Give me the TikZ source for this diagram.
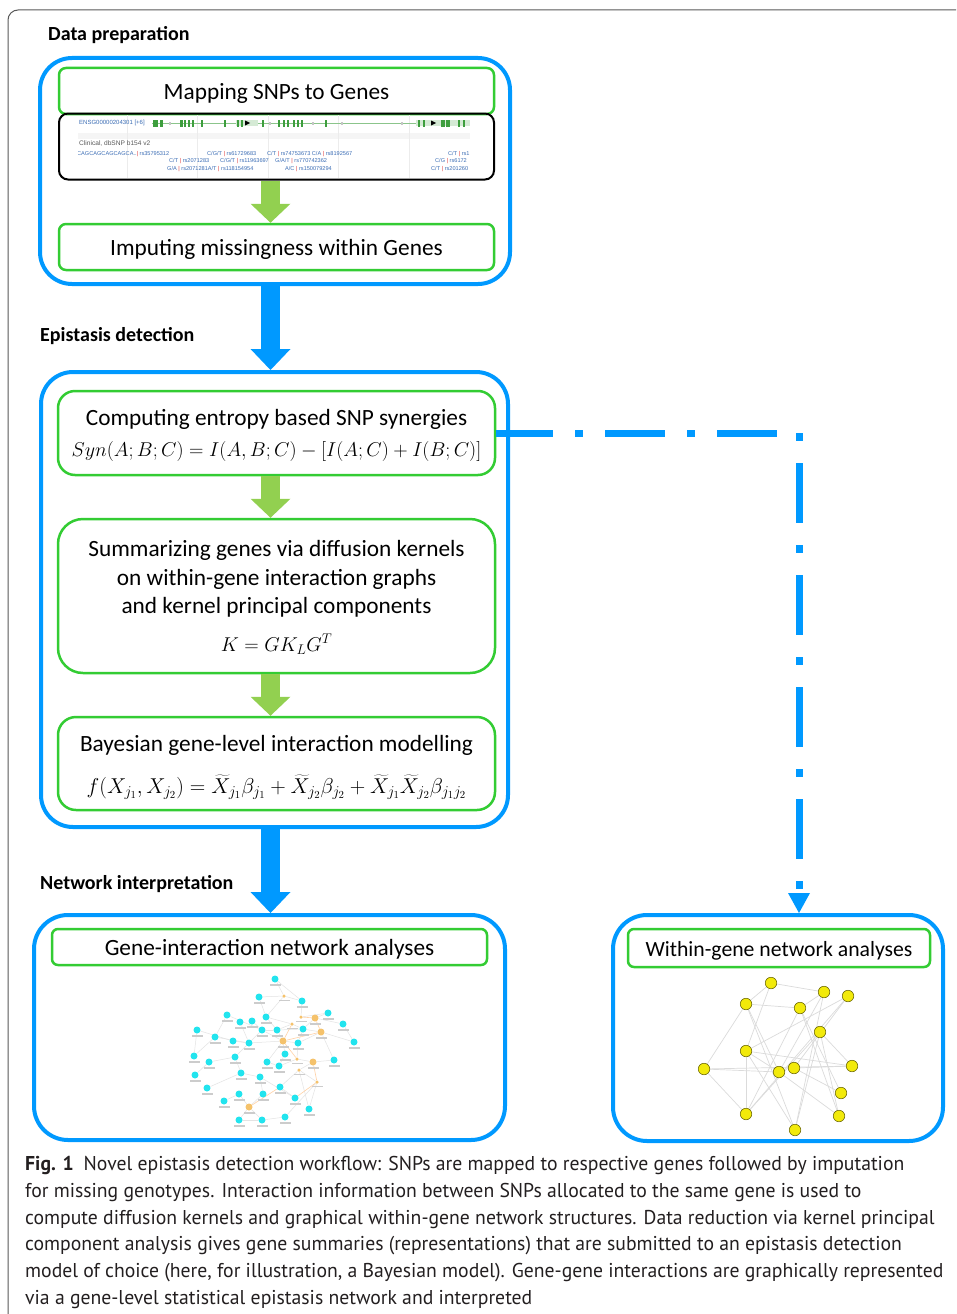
\RequirePackage{fix-cm}
\documentclass[tikz,border=0pt]{standalone}
\usepackage[no-math]{fontspec}
\usepackage{xcolor}
\usepackage{tikz}
\usetikzlibrary{
    arrows.meta,
    positioning,
    calc,
    backgrounds
}
\newfontfamily\boxfont{Carlito}
\newfontfamily\capfont[FakeStretch=0.985]{PT Sans}
\newfontfamily\trackfont{Liberation Sans}
\pgfdeclarelayer{netedges}
\pgfsetlayers{background,netedges,main}
\definecolor{flowblue}{HTML}{0099FF}
\definecolor{boxgreen}{HTML}{33CC33}
\definecolor{stepgreen}{HTML}{92D050}
\definecolor{framegray}{HTML}{595959}
\definecolor{trackblue}{HTML}{3B6DB5}
\definecolor{trackgreen}{HTML}{3E9E3E}
\definecolor{snpred}{HTML}{E03030}
\definecolor{genecyan}{HTML}{22E4EE}
\definecolor{geneorange}{HTML}{F5C26B}
\definecolor{snpyellow}{HTML}{F2EA0A}
\definecolor{captext}{HTML}{231F20}
\newcommand{\eqline}[2][20]{{\fontsize{#1}{24}\selectfont$#2$}}
\newcommand{\snpbar}{\textcolor{snpred}{|}}
\newcommand{\lift}[1]{\rule{0pt}{#1}}
\tikzset{
    % Blue stage frame
    stagebox/.style={
        rectangle,
        rounded corners=32pt,
        draw=flowblue,
        line width=4pt
    },
    % Green task box
    taskbox/.style={
        rectangle,
        rounded corners=7pt,
        draw=boxgreen,
        line width=2.5pt,
        font=\boxfont\fontsize{23.3}{28.5}\selectfont,
        minimum width=435pt,
        align=center,
        inner sep=0pt
    },
    % Screenshot frame
    shotbox/.style={
        rectangle,
        rounded corners=9pt,
        draw=black,
        line width=2pt,
        minimum width=435pt,
        minimum height=66pt
    },
    % Phase title
    phasetitle/.style={
        font=\boxfont\bfseries\fontsize{20}{22}\selectfont,
        anchor=west,
        inner sep=0pt
    },
    % Thick blue flow arrow
    flowarrow/.style={
        draw=flowblue,
        line width=19pt,
        -{Triangle[width=40pt, length=21pt, line width=0pt]}
    },
    % Green task arrow
    taskarrow/.style={
        draw=stepgreen,
        line width=19pt,
        -{Triangle[width=40pt, length=19pt, line width=0pt]}
    },
    % Dash-dot link arrow
    linkarrow/.style={
        draw=flowblue,
        line width=7pt,
        dash pattern=on 60pt off 22pt on 8pt off 22pt,
        dash phase=3pt,
        -{Triangle[width=22pt, length=20pt, line width=0pt]}
    },
    % Genome browser text
    tracktext/.style={
        font=\trackfont\fontsize{5.6}{6.5}\selectfont,
        text=trackblue,
        inner sep=0pt,
        anchor=west
    },
    % Blurred label under a network node
    tagmark/.style={
        fill=gray!40,
        inner sep=0pt,
        minimum width=11pt,
        minimum height=1.5pt,
        label distance=1.5pt
    },
    % Gene node
    genedot/.style={
        circle,
        fill=genecyan,
        inner sep=0pt,
        minimum size=7pt,
        label={[tagmark]below:{}}
    },
    % Hub gene node
    hubdot/.style={
        circle,
        fill=geneorange,
        inner sep=0pt,
        minimum size=7pt,
        label={[tagmark]below:{}}
    },
    % Small hub node
    minidot/.style={
        circle,
        fill=geneorange,
        inner sep=0pt,
        minimum size=3.5pt,
        label={[tagmark]below:{}}
    },
    % SNP node
    snpdot/.style={
        circle,
        fill=snpyellow,
        draw=snpyellow!45!black,
        line width=0.6pt,
        inner sep=0pt,
        minimum size=11.5pt
    },
    % Network edges
    netedge/.style={draw=gray!22, line width=0.5pt},
    hotedge/.style={draw=orange!35, line width=0.6pt},
    snpedge/.style={draw=gray!28, line width=0.7pt},
    % Figure caption
    figcaption/.style={
        font=\capfont\fontsize{20}{26.8}\selectfont,
        text=captext,
        align=left,
        inner sep=0pt,
        anchor=north west
    }
}

\begin{document}
\begin{tikzpicture}[x=1pt, y=-1pt]

    % Page and frame
    \begin{pgfonlayer}{background}
        \fill[white] (0,0) rectangle (956,1314);
    \end{pgfonlayer}
    \useasboundingbox (0,0) rectangle (956,1314);
    \draw[framegray, line width=1pt, rounded corners=10pt] (956,10) -- (8,10) -- (8,1314);

    % Column of the main flow
    \coordinate (spine) at (270.5,0);

    % Phase titles
    \node[phasetitle] (preptitle) at (48,35) {Data preparation};
    \node[phasetitle] (epititle) at (40,336) {Epistasis detection};
    \node[phasetitle] (nettitle) at (40,884) {Network interpretation};

    % Data preparation stage
    \node[stagebox, minimum width=470pt, minimum height=226pt] (prep) at (275,171) {};
    \node[taskbox, minimum height=46pt] (mapping) at (276.5,91) {\lift{21pt}Mapping SNPs to Genes};
    \node[shotbox] (track) at (276.5,146.5) {};
    \node[taskbox, minimum height=46pt] (impute) at (276.5,247) {\lift{21pt}Imputing missingness within Genes};

    % Genome browser snippet
    \begin{scope}
        \clip (78,115) rectangle (470,178);
        \fill[gray!8] (78,133) rectangle (470,139);
        \foreach \x in {127,197,268,338,409}
            \draw[gray!15, line width=0.6pt] (\x,115) -- (\x,178);
        \node[tracktext, font=\trackfont\fontsize{6}{6.5}\selectfont] (ensg) at (79,123) {ENSG00000204301 [+6]};
        \draw[trackgreen!60, line width=0.9pt] (152,123) -- (470,123);
        \fill[trackgreen!22] (236,120) rectangle (258,126);
        \fill[trackgreen!22] (416,120) rectangle (470,126);
        \foreach \x/\w in {155/5, 161/3, 181/3, 185/2.5, 189/2.5, 193/2.5, 202/2, 225/2,
                           238/2, 242/2, 263/2, 279/2, 284/2, 288/2, 294/2, 298/2, 302/2,
                           326/2, 419/2.5, 424/2.5, 443/4, 448/4, 459/2.5, 464/2.5}
            \fill[trackgreen] ({\x-\w/2},119.5) rectangle ({\x+\w/2},126.5);
        \foreach \x in {170,270,313,342,402}
            \fill[gray!45] ({\x-1},121.5) rectangle ({\x+1},124.5);
        \fill[black] (245,120.5) -- (250,123) -- (245,125.5) -- cycle;
        \fill[black] (431,120.5) -- (436,123) -- (431,125.5) -- cycle;
        \node[tracktext, text=gray!70!black, font=\trackfont\fontsize{6.6}{7}\selectfont] (clinical) at (79,144) {Clinical, dbSNP b154 v2};
        % SNP rows
        \node[tracktext] (snpa) at (77,154) {CAGCAGCAGCAGCA..\snpbar{} rs35795312};
        \node[tracktext] (snpb) at (207,154) {C/G/T \snpbar{} rs61729683};
        \node[tracktext] (snpc) at (267,154) {C/T \snpbar{} rs74753673 C/A \snpbar{} rs8192567};
        \node[tracktext] (snpd) at (448,154) {C/T \snpbar{} rs1};
        \node[tracktext] (snpe) at (169,161) {C/T \snpbar{} rs2071283};
        \node[tracktext] (snpf) at (220,161) {C/G/T \snpbar{} rs11963697};
        \node[tracktext] (snpg) at (275,161) {G/A/T \snpbar{} rs770742362};
        \node[tracktext] (snph) at (435,161) {C/G \snpbar{} rs6172};
        \node[tracktext] (snpi) at (167,169) {G/A \snpbar{} rs2071281A/T \snpbar{} rs118154954};
        \node[tracktext] (snpj) at (285,169) {A/C \snpbar{} rs150079294};
        \node[tracktext] (snpk) at (431,169) {C/T \snpbar{} rs201260};
    \end{scope}

    % Epistasis detection stage
    \node[stagebox, minimum width=467pt, minimum height=455pt] (epi) at (274.5,599.5) {};
    \node[taskbox, minimum width=437pt, minimum height=84pt, rounded corners=17pt] (synergy) at (276.5,433)
        {\lift{21pt}Computing entropy based SNP synergies\\[3pt]
         \eqline{Syn(A;B;C) = I(A,B;C) - [I(A;C) + I(B;C)]}};
    \node[taskbox, minimum width=437pt, minimum height=154pt, rounded corners=25pt] (kernel) at (276.5,596)
        {\lift{19pt}Summarizing genes via diffusion kernels\\
         on within-gene interaction graphs\\
         and kernel principal components\\[9pt]
         \eqline{K = GK_LG^T}};
    \node[taskbox, minimum width=437pt, minimum height=93pt, rounded corners=18pt] (bayes) at (276.5,763.5)
        {\lift{24pt}Bayesian gene-level interaction modelling\\[13pt]
         \eqline[21.5]{f(X_{j_1},X_{j_2}) = \widetilde{X}_{j_1}\beta_{j_1} + \widetilde{X}_{j_2}\beta_{j_2} + \widetilde{X}_{j_1}\widetilde{X}_{j_2}\beta_{j_1j_2}}};

    % Network interpretation stage
    \node[stagebox, minimum width=471pt, minimum height=225pt, rounded corners=34pt] (genenet) at (269.5,1027.5) {};
    \node[taskbox, minimum height=36pt, rounded corners=6pt] (genetitle) at (269.5,947) {\lift{21pt}Gene-interaction network analyses};
    \node[stagebox, minimum width=330pt, minimum height=226pt, rounded corners=34pt] (within) at (778,1028) {};
    \node[taskbox, minimum width=302pt, minimum height=38pt, rounded corners=6pt,
          font=\boxfont\fontsize{21.7}{26}\selectfont] (withintitle) at (779,948) {\lift{20pt}Within-gene network analyses};

    % Gene-interaction network
    \foreach \x/\y [count=\i] in {275/979, 259/997, 302/1001, 328/1013, 343/1024, 227/1015, 240/1022,
                                  252/1021, 266/1017, 262/1030, 277/1030, 303/1029, 197/1030, 215/1037,
                                  233/1041, 249/1043, 298/1043, 285/1054, 354/1042, 194/1056, 209/1062,
                                  235/1057, 267/1062, 279/1066, 334/1060, 241/1073, 260/1077, 195/1075,
                                  207/1088, 239/1094, 263/1094, 280/1087, 295/1098, 224/1101, 309/1109,
                                  239/1120, 262/1120, 285/1117}
        \node[genedot] (g\i) at (\x,\y) {};
    \foreach \x/\y [count=\i] in {315/1018, 321/1032, 283/1041, 313/1062, 249/1107}
        \node[hubdot] (h\i) at (\x,\y) {};
    \foreach \x/\y [count=\i] in {284/996, 301/1017, 292/1024, 299/1070, 317/1082, 297/1059}
        \node[minidot] (m\i) at (\x,\y) {};
    \begin{pgfonlayer}{netedges}
        \foreach \a/\b in {g1/m1, m1/g2, m1/g3, m1/g9, g3/m2, m2/g4, h1/g4, h1/g5, h1/g12, h2/g12,
                           h2/g19, h2/g25, h2/g17, h3/g11, h3/g10, h3/g17, h3/g18, h3/g23, h3/g16,
                           m3/g11, m3/g9, m3/g12, g7/g16, g6/g14, g13/g15, g15/g16, g16/g22, g22/g26,
                           g26/g27, g27/g31, g23/g24, g24/m6, m6/h4, h4/g25, h4/m4, m4/g32, m4/m5,
                           m5/g35, m5/g38, g33/g32, g31/h5, h5/g30, h5/g36, h5/g37, g34/g30, g29/g26,
                           g28/g21, g21/g22, g20/g14, g10/g16, g10/g11, g11/g12, g12/g17, g17/m6,
                           g18/g24, g8/g10, g9/g11, g2/g9, g6/g10, g14/g16, g27/g33, g35/m4, g1/g3,
                           g5/g19, g13/g20, g36/g37, g37/g38}
            \draw[netedge] (\a) -- (\b);
        \foreach \a/\b in {h1/h2, h2/h3, h3/m6, h4/m5, m5/g33, h5/g32, m3/h3, m2/h1}
            \draw[hotedge] (\a) -- (\b);
    \end{pgfonlayer}

    % Within-gene network
    \foreach \x/\y [count=\i] in {771/983, 824/992, 848/996, 746/1004, 800/1008, 820/1032, 746/1051,
                                  704/1069, 779/1072, 794/1068, 852/1066, 841/1093, 746/1114,
                                  839/1116, 795/1130}
        \node[snpdot] (w\i) at (\x,\y) {};
    \begin{pgfonlayer}{netedges}
        \foreach \a/\b in {w1/w2, w1/w7, w1/w4, w4/w5, w4/w8, w4/w9, w4/w15, w7/w3, w7/w11, w7/w9,
                           w7/w15, w7/w13, w8/w9, w8/w11, w5/w12, w5/w13, w6/w13, w6/w15, w6/w14,
                           w6/w11, w2/w9, w2/w15, w3/w10, w9/w14, w10/w12, w10/w11, w5/w14, w2/w5,
                           w3/w13, w8/w13}
            \draw[snpedge] (\a) -- (\b);
    \end{pgfonlayer}

    % Arrows along the main flow
    \draw[taskarrow] (track.south -| spine) -- (impute.north -| spine);
    \draw[flowarrow] (prep.south -| spine) -- (epi.north -| spine);
    \draw[taskarrow] (synergy.south -| spine) -- (kernel.north -| spine);
    \draw[taskarrow] (kernel.south -| spine) -- (bayes.north -| spine);
    \draw[flowarrow] (epi.south -| spine) -- (genenet.north -| spine);

    % Link from synergies to within-gene networks
    \draw[linkarrow] (synergy.east) -| ([xshift=21pt]within.north);

    % Caption
    \node[figcaption] (figcap) at (25,1156)
        {\textbf{Fig. 1}\enspace Novel epistasis detection workflow: SNPs are mapped to respective genes followed by imputation\\
         for missing genotypes. Interaction information between SNPs allocated to the same gene is used to\\
         compute diffusion kernels and graphical within-gene network structures. Data reduction via kernel principal\\
         component analysis gives gene summaries (representations) that are submitted to an epistasis detection\\
         model of choice (here, for illustration, a Bayesian model). Gene-gene interactions are graphically represented\\
         via a gene-level statistical epistasis network and interpreted};

\end{tikzpicture}
\end{document}
